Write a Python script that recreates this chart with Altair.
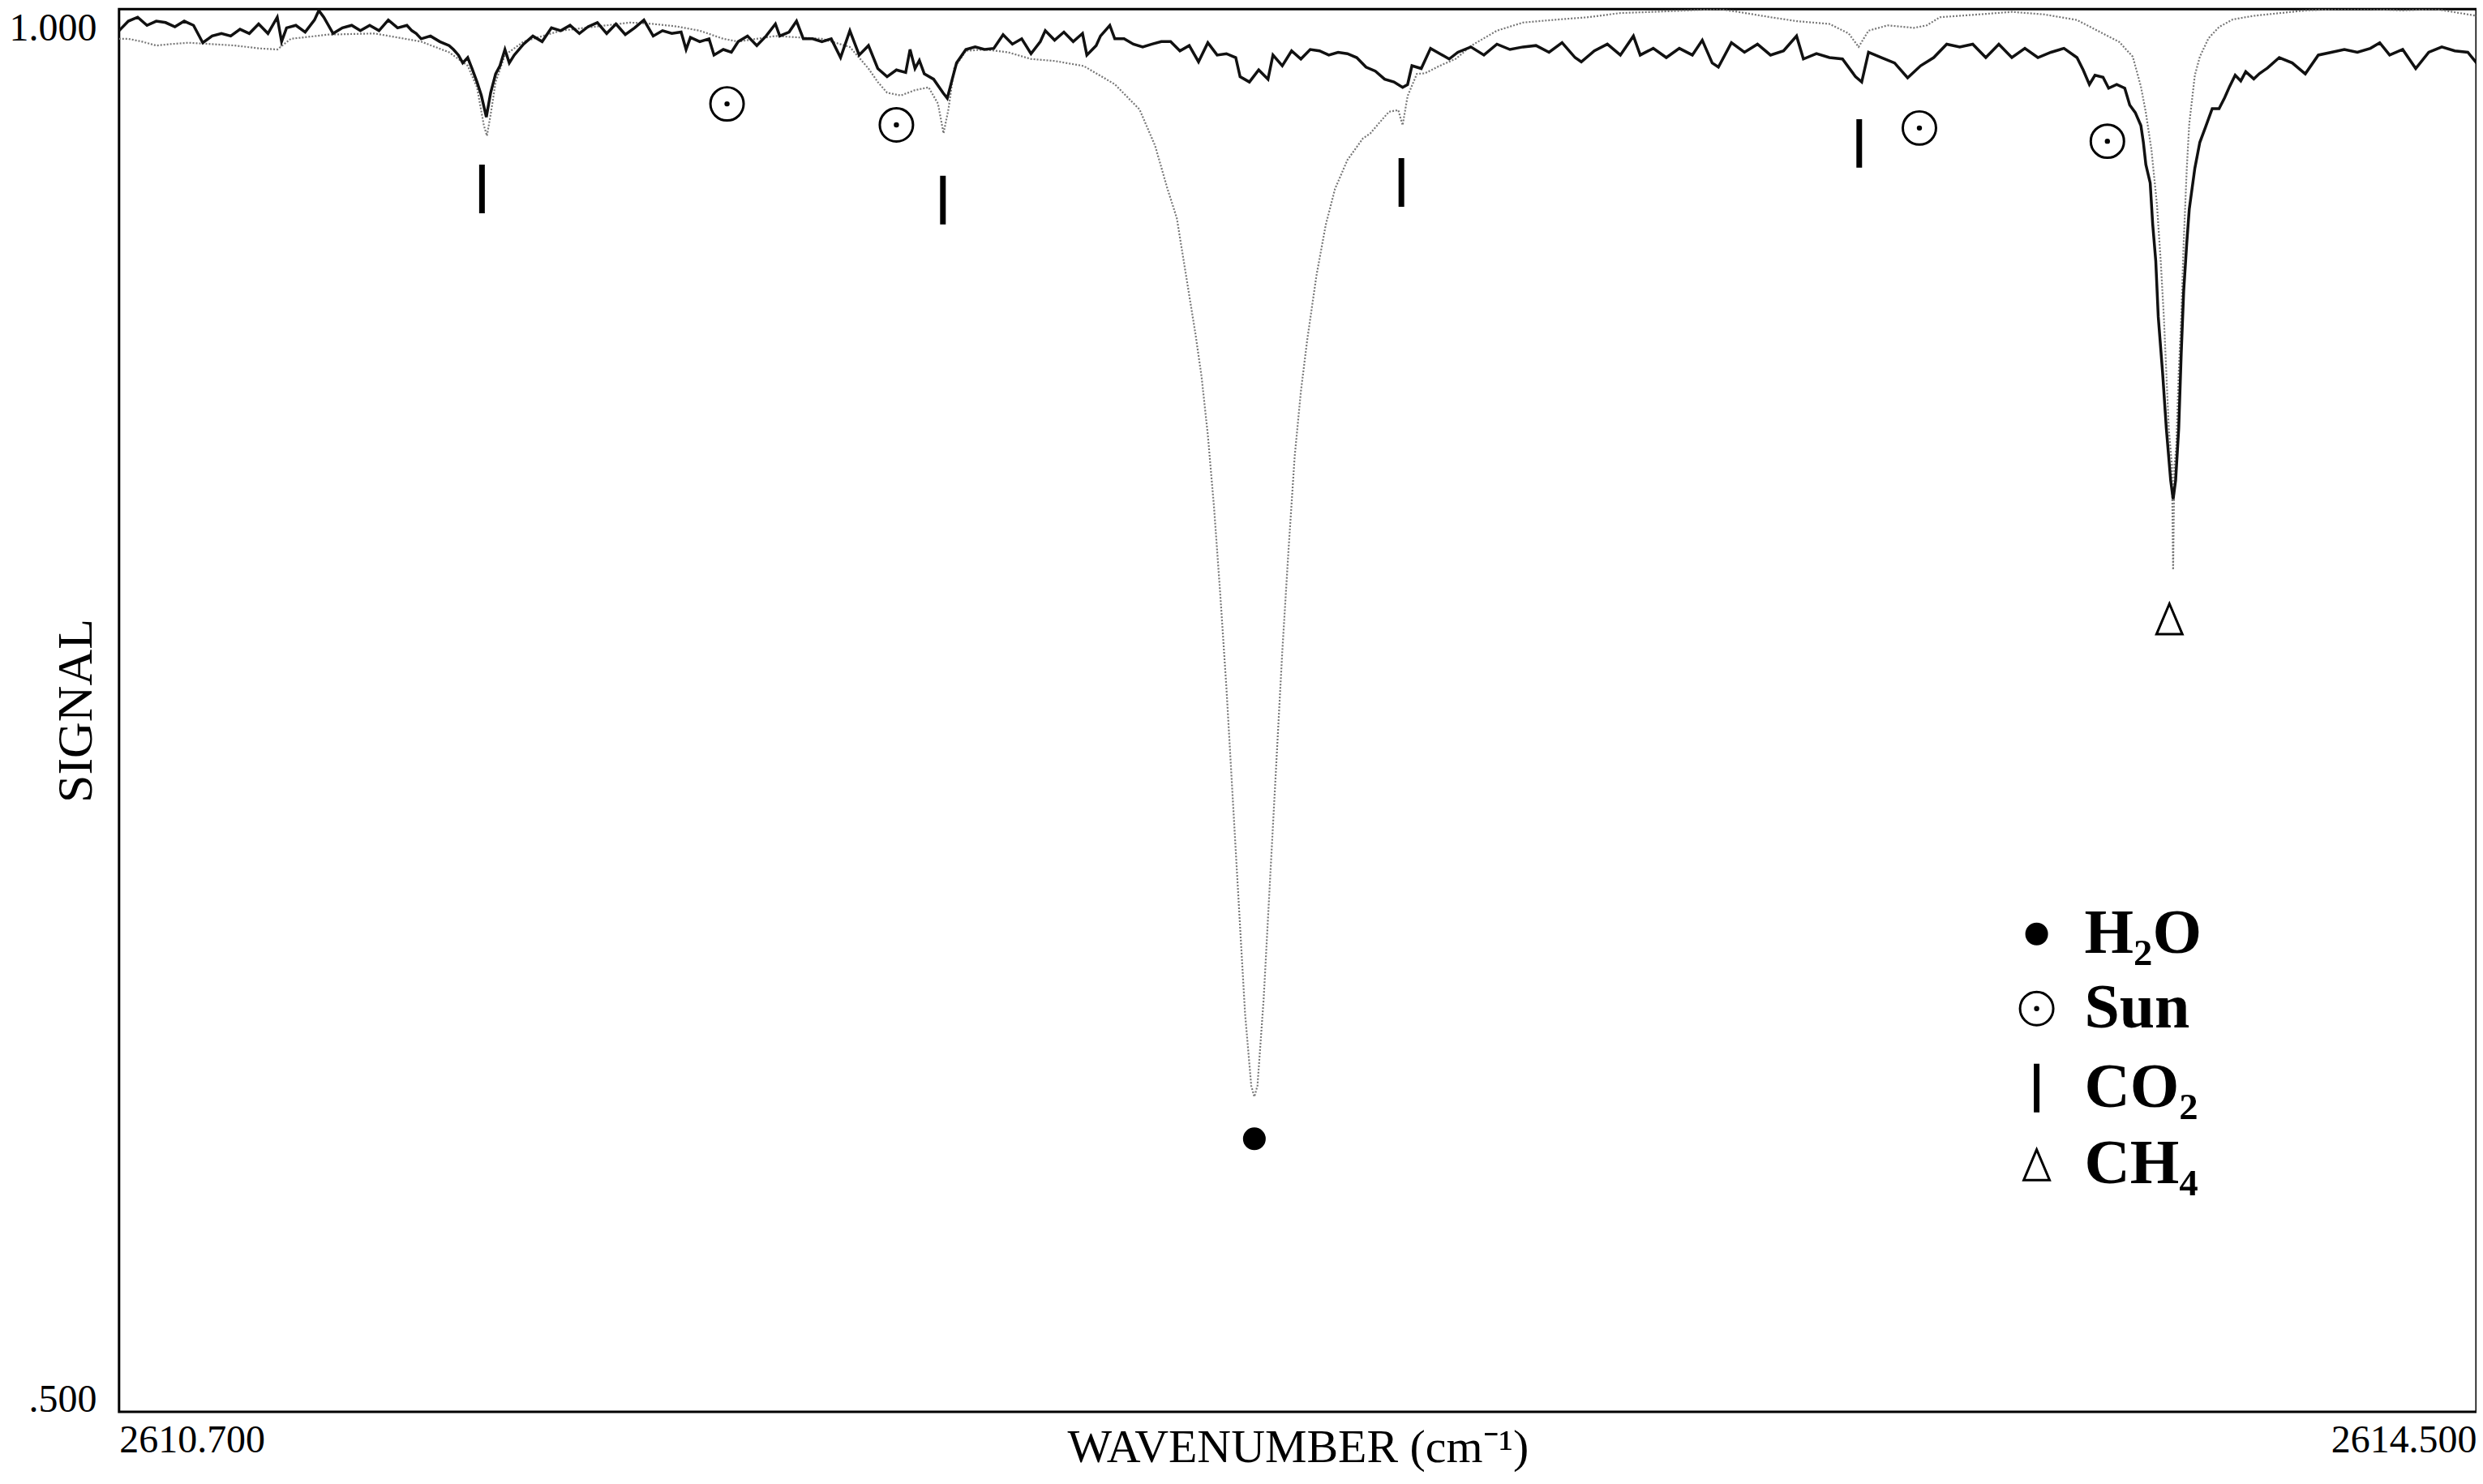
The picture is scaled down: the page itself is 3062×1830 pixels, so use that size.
import altair as alt
import pandas as pd

# ---- black (measured) spectrum ----
black_x = [
    2610.700, 2610.715, 2610.730, 2610.745, 2610.760, 2610.775, 2610.790, 2610.805, 2610.820, 2610.835,
    2610.850, 2610.865, 2610.880, 2610.895, 2610.910, 2610.925, 2610.940, 2610.955, 2610.962, 2610.970,
    2610.985, 2611.000, 2611.015, 2611.022, 2611.030, 2611.045, 2611.060, 2611.075, 2611.089, 2611.104,
    2611.119, 2611.134, 2611.149, 2611.164, 2611.172, 2611.179, 2611.187, 2611.202, 2611.217, 2611.232,
    2611.239, 2611.247, 2611.254, 2611.262, 2611.269, 2611.277, 2611.284, 2611.292, 2611.299, 2611.307,
    2611.314, 2611.322, 2611.329, 2611.337, 2611.352, 2611.367, 2611.382, 2611.397, 2611.412, 2611.427,
    2611.442, 2611.456, 2611.471, 2611.486, 2611.501, 2611.516, 2611.531, 2611.546, 2611.561, 2611.576,
    2611.591, 2611.606, 2611.614, 2611.621, 2611.636, 2611.651, 2611.659, 2611.674, 2611.687,
    2611.698, 2611.713, 2611.728, 2611.743, 2611.758, 2611.765, 2611.780, 2611.792, 2611.803, 2611.818,
    2611.833, 2611.848, 2611.863, 2611.878, 2611.893, 2611.908, 2611.923, 2611.938, 2611.953, 2611.968,
    2611.975, 2611.983, 2611.990, 2611.998, 2612.013, 2612.028, 2612.035, 2612.043, 2612.050, 2612.065,
    2612.080, 2612.095, 2612.110, 2612.125, 2612.140, 2612.155, 2612.170, 2612.185, 2612.193, 2612.208,
    2612.223, 2612.238, 2612.253, 2612.260, 2612.275, 2612.282, 2612.297, 2612.305, 2612.320, 2612.335,
    2612.350, 2612.365, 2612.380, 2612.395, 2612.410, 2612.425, 2612.440, 2612.455, 2612.470, 2612.485,
    2612.500, 2612.507, 2612.522, 2612.537, 2612.552, 2612.560, 2612.575, 2612.590, 2612.605, 2612.620,
    2612.635, 2612.650, 2612.665, 2612.680, 2612.695, 2612.710, 2612.725, 2612.740, 2612.755, 2612.769,
    2612.777, 2612.784, 2612.799, 2612.814, 2612.829, 2612.844,
    2612.858, 2612.879, 2612.900, 2612.921, 2612.942, 2612.963, 2612.984, 2613.005, 2613.026, 2613.047,
    2613.057, 2613.078, 2613.099, 2613.120, 2613.141, 2613.152, 2613.173, 2613.194, 2613.215, 2613.236,
    2613.252, 2613.268, 2613.278, 2613.299, 2613.320, 2613.341, 2613.362, 2613.383, 2613.404, 2613.415,
    2613.436, 2613.457, 2613.478, 2613.499, 2613.509, 2613.520, 2613.541, 2613.562, 2613.583, 2613.604,
    2613.625, 2613.646, 2613.667, 2613.688, 2613.709, 2613.730, 2613.751, 2613.772, 2613.793, 2613.814,
    2613.835, 2613.856, 2613.866,
    2613.876, 2613.885, 2613.898, 2613.907, 2613.920, 2613.933, 2613.941, 2613.950, 2613.959, 2613.963,
    2613.967, 2613.974, 2613.978, 2613.983, 2613.987, 2613.994, 2614.000, 2614.007, 2614.011, 2614.015,
    2614.020, 2614.024, 2614.028, 2614.033, 2614.037, 2614.046, 2614.054, 2614.063, 2614.074, 2614.085,
    2614.094, 2614.102, 2614.111, 2614.120, 2614.128, 2614.141, 2614.150, 2614.163,
    2614.182, 2614.203, 2614.224, 2614.245, 2614.266, 2614.287, 2614.308, 2614.329, 2614.344, 2614.360,
    2614.381, 2614.402, 2614.423, 2614.444, 2614.465, 2614.486, 2614.500,
]
black_y = [
    0.9923, 0.9957, 0.9971, 0.9942, 0.9957, 0.9952, 0.9937, 0.9957, 0.9942, 0.9880,
    0.9904, 0.9913, 0.9904, 0.9928, 0.9913, 0.9947, 0.9913, 0.9971, 0.9884, 0.9933,
    0.9942, 0.9918, 0.9961, 0.9995, 0.9971, 0.9913, 0.9933, 0.9942, 0.9923, 0.9942,
    0.9923, 0.9961, 0.9933, 0.9942, 0.9923, 0.9913, 0.9894, 0.9904, 0.9884, 0.9870,
    0.9856, 0.9836, 0.9808, 0.9827, 0.9788, 0.9740, 0.9692, 0.9615, 0.9702, 0.9769,
    0.9798, 0.9856, 0.9808, 0.9836, 0.9875, 0.9904, 0.9884, 0.9933, 0.9923, 0.9942,
    0.9913, 0.9937, 0.9952, 0.9913, 0.9947, 0.9909, 0.9933, 0.9961, 0.9904, 0.9923,
    0.9913, 0.9918, 0.9856, 0.9899, 0.9884, 0.9894, 0.9836, 0.9856, 0.9846,
    0.9884, 0.9904, 0.9870, 0.9904, 0.9947, 0.9904, 0.9918, 0.9957, 0.9894, 0.9894,
    0.9884, 0.9894, 0.9827, 0.9923, 0.9836, 0.9870, 0.9788, 0.9759, 0.9783, 0.9774,
    0.9856, 0.9788, 0.9817, 0.9769, 0.9750, 0.9702, 0.9682, 0.9750, 0.9808, 0.9856,
    0.9865, 0.9856, 0.9860, 0.9909, 0.9875, 0.9894, 0.9841, 0.9884, 0.9923, 0.9889,
    0.9918, 0.9884, 0.9913, 0.9836, 0.9870, 0.9904, 0.9942, 0.9894, 0.9894, 0.9875,
    0.9865, 0.9875, 0.9884, 0.9884, 0.9851, 0.9870, 0.9812, 0.9880, 0.9836, 0.9841,
    0.9827, 0.9759, 0.9740, 0.9783, 0.9750, 0.9836, 0.9798, 0.9851, 0.9822, 0.9856,
    0.9851, 0.9836, 0.9846, 0.9841, 0.9827, 0.9793, 0.9779, 0.9750, 0.9740, 0.9721,
    0.9731, 0.9798, 0.9788, 0.9860, 0.9841, 0.9822,
    0.9846, 0.9865, 0.9836, 0.9875, 0.9856, 0.9865, 0.9870, 0.9846, 0.9880, 0.9827,
    0.9812, 0.9851, 0.9875, 0.9836, 0.9904, 0.9836, 0.9860, 0.9827, 0.9860, 0.9836,
    0.9889, 0.9808, 0.9793, 0.9880, 0.9846, 0.9875, 0.9836, 0.9851, 0.9904, 0.9822,
    0.9841, 0.9827, 0.9822, 0.9759, 0.9740, 0.9846, 0.9827, 0.9808, 0.9755, 0.9798,
    0.9827, 0.9875, 0.9865, 0.9875, 0.9827, 0.9875, 0.9827, 0.9860, 0.9827, 0.9846,
    0.9860, 0.9827, 0.9783,
    0.9731, 0.9764, 0.9757, 0.9718, 0.9731, 0.9718, 0.9658, 0.9631, 0.9585, 0.9525,
    0.9446, 0.9380, 0.9234, 0.9101, 0.8903, 0.8704, 0.8505, 0.8320, 0.8253, 0.8320,
    0.8505, 0.8770, 0.8995, 0.9168, 0.9287, 0.9433, 0.9525, 0.9578, 0.9645, 0.9645,
    0.9684, 0.9724, 0.9764, 0.9744, 0.9777, 0.9751, 0.9770, 0.9790,
    0.9827, 0.9808, 0.9769, 0.9836, 0.9846, 0.9856, 0.9846, 0.9860, 0.9880, 0.9836,
    0.9856, 0.9788, 0.9846, 0.9865, 0.9851, 0.9846, 0.9808,
]

# ---- grey dotted (reference) spectrum ----
gray_x = [
    2610.700, 2610.715, 2610.737, 2610.760, 2610.782, 2610.812, 2610.850, 2610.887, 2610.925, 2610.955,
    2610.977, 2611.037, 2611.112, 2611.187, 2611.232, 2611.262, 2611.277, 2611.288, 2611.293, 2611.299,
    2611.307, 2611.322, 2611.352, 2611.412, 2611.486, 2611.524, 2611.561, 2611.599, 2611.636, 2611.674,
    2611.698, 2611.758, 2611.833, 2611.878, 2611.908, 2611.923, 2611.938, 2611.960, 2611.983, 2612.005,
    2612.020, 2612.029, 2612.037, 2612.046, 2612.065, 2612.095, 2612.133, 2612.170, 2612.208, 2612.255,
    2612.305, 2612.345, 2612.370, 2612.390, 2612.405, 2612.420, 2612.435, 2612.445, 2612.455, 2612.465,
    2612.475, 2612.485, 2612.495, 2612.505, 2612.515, 2612.525, 2612.530, 2612.535, 2612.545, 2612.555,
    2612.565, 2612.575, 2612.585, 2612.595, 2612.605, 2612.615, 2612.630, 2612.645, 2612.660, 2612.680,
    2612.705, 2612.717, 2612.730, 2612.747, 2612.762, 2612.769, 2612.777, 2612.792, 2612.805, 2612.829,
    2612.855, 2612.880, 2612.921, 2612.963, 2613.015, 2613.068, 2613.120, 2613.173, 2613.226, 2613.278,
    2613.310, 2613.362, 2613.404, 2613.457, 2613.488, 2613.504, 2613.520, 2613.551, 2613.593, 2613.614,
    2613.635, 2613.698, 2613.751, 2613.803, 2613.856, 2613.889, 2613.924, 2613.946, 2613.959, 2613.967,
    2613.976, 2613.985, 2613.991, 2613.996, 2614.000, 2614.004, 2614.009, 2614.011, 2614.013, 2614.016,
    2614.020, 2614.024, 2614.028, 2614.033, 2614.037, 2614.046, 2614.054, 2614.068, 2614.085, 2614.107,
    2614.141, 2614.224, 2614.276, 2614.329, 2614.381, 2614.434, 2614.500,
]
gray_y = [
    0.9894, 0.9894, 0.9884, 0.9870, 0.9875, 0.9880, 0.9875, 0.9870, 0.9860, 0.9856,
    0.9894, 0.9909, 0.9913, 0.9884, 0.9846, 0.9798, 0.9721, 0.9586, 0.9548, 0.9625,
    0.9740, 0.9836, 0.9884, 0.9923, 0.9942, 0.9952, 0.9947, 0.9938, 0.9923, 0.9894,
    0.9884, 0.9904, 0.9894, 0.9865, 0.9788, 0.9740, 0.9702, 0.9692, 0.9711, 0.9721,
    0.9663, 0.9557, 0.9644, 0.9788, 0.9851, 0.9856, 0.9846, 0.9822, 0.9815, 0.9797,
    0.9732, 0.9642, 0.9513, 0.9359, 0.9255, 0.9049, 0.8843, 0.8688, 0.8482, 0.8224,
    0.7915, 0.7580, 0.7193, 0.6806, 0.6420, 0.6162, 0.6123, 0.6162, 0.6471, 0.6884,
    0.7296, 0.7709, 0.8070, 0.8405, 0.8637, 0.8817, 0.9049, 0.9230, 0.9359, 0.9462,
    0.9539, 0.9557, 0.9591, 0.9634, 0.9640, 0.9586, 0.9690, 0.9769, 0.9771, 0.9798,
    0.9823, 0.9870, 0.9923, 0.9952, 0.9962, 0.9971, 0.9986, 0.9990, 0.9995, 1.0000,
    0.9990, 0.9971, 0.9957, 0.9947, 0.9913, 0.9865, 0.9923, 0.9942, 0.9933, 0.9942,
    0.9971, 0.9981, 0.9990, 0.9981, 0.9961, 0.9923, 0.9883, 0.9830, 0.9724, 0.9631,
    0.9499, 0.9300, 0.9101, 0.8903, 0.8704, 0.8505, 0.8372, 0.8001, 0.8372, 0.8439,
    0.8704, 0.8903, 0.9168, 0.9433, 0.9592, 0.9764, 0.9830, 0.9896, 0.9936, 0.9963,
    0.9976, 0.9995, 1.0000, 1.0000, 0.9995, 1.0000, 0.9976,
]

# ---- line identification markers ----
marker_species = ["H₂O", "Sun", "Sun", "Sun", "Sun", "CO₂", "CO₂", "CO₂", "CO₂", "CH₄"]
marker_x = [2612.530, 2611.680, 2611.953, 2613.602, 2613.905, 2611.285, 2612.028, 2612.767, 2613.505, 2614.005]
marker_y = [0.5973, 0.9662, 0.9587, 0.9576, 0.9529, 0.9359, 0.9319, 0.9382, 0.9521, 0.7826]

# ---- key (legend) ----
species_order = ["H₂O", "Sun", "CO₂", "CH₄"]
key_symbol_x = [2613.791, 2613.791, 2613.791, 2613.791]
key_label_x = [2613.868, 2613.868, 2613.868, 2613.868]
key_y = [0.6703, 0.6437, 0.6154, 0.5880]

species_shapes = [
    "M -0.44 0 A 0.44 0.44 0 1 0 0.44 0 A 0.44 0.44 0 1 0 -0.44 0 Z",
    "M -0.72 0 A 0.72 0.72 0 1 0 0.72 0 A 0.72 0.72 0 1 0 -0.72 0 Z "
    "M -0.06 0 A 0.06 0.06 0 1 0 0.06 0 A 0.06 0.06 0 1 0 -0.06 0 Z",
    "M -0.07 -1 L 0.07 -1 L 0.07 1 L -0.07 1 Z",
    "M 0 -0.66 L 0.56 0.66 L -0.56 0.66 Z",
]
species_fill = ["black", "transparent", "black", "transparent"]

x_domain = [2610.7, 2614.5]
y_domain = [0.5, 1.0]

black_df = pd.DataFrame({"x": black_x, "y": black_y})
gray_df = pd.DataFrame({"x": gray_x, "y": gray_y})
marker_df = pd.DataFrame({"x": marker_x, "y": marker_y, "species": marker_species})
key_sym_df = pd.DataFrame({"x": key_symbol_x, "y": key_y, "species": species_order})
key_lab_df = pd.DataFrame({"x": key_label_x, "y": key_y, "species": species_order})

FONT = "Liberation Serif"

x_enc = alt.X(
    "x:Q",
    scale=alt.Scale(domain=x_domain, nice=False, zero=False),
    axis=alt.Axis(
        values=x_domain, format=".3f", labelFlush=True, labelLimit=600,
        title="WAVENUMBER (cm⁻¹)",
        titleFont=FONT, titleFontSize=58, titleFontWeight="normal", titleColor="black",
        titleY=62, titleBaseline="alphabetic",
        labelFont=FONT, labelFontSize=48, labelColor="black", labelPadding=12,
        domain=False, ticks=False, grid=False,
    ),
)
y_enc = alt.Y(
    "y:Q",
    scale=alt.Scale(domain=y_domain, nice=False, zero=False),
    axis=alt.Axis(
        values=y_domain, labelFlush=False, labelLimit=600, title="SIGNAL",
        labelExpr="datum.value < 1 ? substring(format(datum.value, '.3f'), 1) : format(datum.value, '.3f')",
        labelBaseline=alt.ExprRef(expr="datum.value >= 1 ? 'top' : 'alphabetic'"),
        titleFont=FONT, titleFontSize=62, titleFontWeight="normal", titleColor="black",
        titleX=-34, titleY=866, titleBaseline="alphabetic", titleAngle=-90,
        labelFont=FONT, labelFontSize=48, labelColor="black", labelPadding=28,
        domain=False, ticks=False, grid=False,
    ),
)

shape_enc = alt.Shape("species:N", scale=alt.Scale(domain=species_order, range=species_shapes), legend=None)
fill_enc = alt.Fill("species:N", scale=alt.Scale(domain=species_order, range=species_fill), legend=None)

gray_line = alt.Chart(gray_df).mark_line(
    color="#777777", strokeWidth=2.2, strokeDash=[2, 2], clip=True
).encode(x=x_enc, y=y_enc)

black_line = alt.Chart(black_df).mark_line(
    color="#111111", strokeWidth=3.5, clip=True
).encode(x=x_enc, y=y_enc)

markers = alt.Chart(marker_df).mark_point(
    stroke="black", strokeWidth=3, opacity=1, size=3249
).encode(x=x_enc, y=y_enc, shape=shape_enc, fill=fill_enc)

key_symbols = alt.Chart(key_sym_df).mark_point(
    stroke="black", strokeWidth=3, opacity=1, size=3249
).encode(x=x_enc, y=y_enc, shape=shape_enc, fill=fill_enc)

key_labels = alt.Chart(key_lab_df).mark_text(
    align="left", baseline="middle", font=FONT, fontSize=78, fontWeight="bold", color="black"
).encode(x=x_enc, y=y_enc, text="species:N")

chart = alt.layer(gray_line, black_line, markers, key_symbols, key_labels).properties(
    width=2911,
    height=1732,
    autosize=alt.AutoSizeParams(type="none"),
    padding={"left": 139, "top": 2, "right": 0, "bottom": 80},
    background="white",
).configure_view(
    stroke="black", strokeWidth=3
)

chart.save("out.html", embed_options={"renderer": "svg", "actions": False})
